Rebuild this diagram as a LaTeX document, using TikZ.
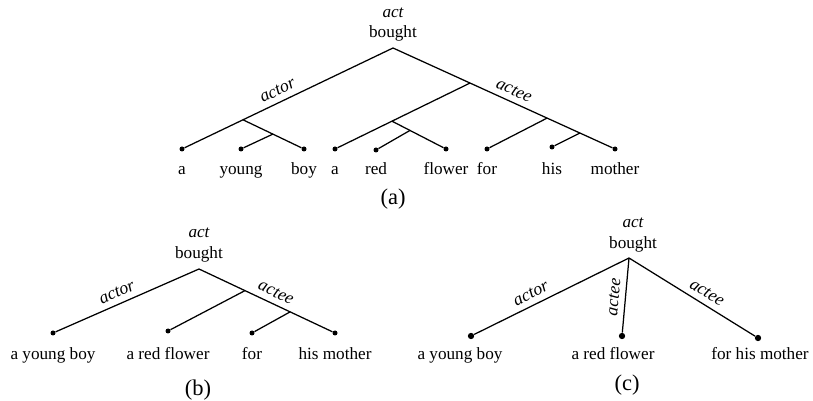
\documentclass[tikz,border=0pt]{standalone}
\usepackage{fontspec}
\setmainfont{Liberation Serif}
\usetikzlibrary{calc}
\tikzstyle{leaf}=[circle,fill=black,inner sep=0pt,minimum size=3pt]
\tikzstyle{bigleaf}=[circle,fill=black,inner sep=0pt,minimum size=3.8pt]
\tikzstyle{word}=[anchor=base,inner sep=0pt,font=\fontsize{10.3}{12}\selectfont]
\tikzstyle{rel}=[sloped,above,inner sep=3.5pt,font=\fontsize{10.6}{12}\selectfont\itshape]
\tikzstyle{branch}=[draw,line width=0.75pt]
\tikzstyle{caption}=[anchor=base,inner sep=0pt,font=\fontsize{13.5}{15}\selectfont]

\begin{document}
\begin{tikzpicture}[x=0.6pt,y=-0.6pt]
\useasboundingbox (0,0) rectangle (813,401);

% (a) -- every word is its own leaf
  \node[word] (actA) at (393,18) {\itshape act};
  \node[word] (headA) at (393,38) {bought};
  \coordinate (rootA) at (393,48);

  \foreach \x/\y/\name/\label in {182/149/a1/a, 241/149/a2/young, 304/149/a3/boy, 335/149/a4/a, 376/150/a5/red, 446/149/a6/flower, 487/149/a7/for, 552/147/a8/his, 615/149/a9/mother}
         {\node[leaf] (\name) at (\x,\y) {};
          \node[word] (w\name) at (\x,175) {\label};}

  \draw[branch] (rootA) -- node[rel,pos=.53] {actor} (a1);
  \draw[branch] (rootA) -- node[rel,pos=.53] {actee} (a9);

  \coordinate (jA1) at ($(rootA)!0.711!(a1)$);
  \coordinate (jA2) at ($(jA1)!0.49!(a3)$);
  \coordinate (jA3) at ($(rootA)!0.347!(a9)$);
  \coordinate (jA4) at ($(jA3)!0.578!(a4)$);
  \coordinate (jA5) at ($(jA4)!0.333!(a6)$);
  \coordinate (jA6) at ($(rootA)!0.694!(a9)$);
  \coordinate (jA7) at ($(rootA)!0.842!(a9)$);

  \foreach \source/\dest in {jA1/a3, jA2/a2, jA3/a4, jA4/a6, jA5/a5, jA6/a7, jA7/a8}
         \draw[branch] (\source) -- (\dest);

  \node[caption] (capA) at (393,205) {(a)};

% (b) -- noun phrases kept whole
  \def\dx{0};
  \def\dy{200};

  \node[word] (actB) at (199+\dx,38+\dy) {\itshape act};
  \node[word] (headB) at (199+\dx,59+\dy) {bought};
  \coordinate (rootB) at (199+\dx,69+\dy);

  \foreach \x/\y/\name/\label in {53/133/b1/a young boy, 168/131/b2/a red flower, 252/133/b3/for, 335/133/b4/his mother}
         {\node[leaf] (\name) at (\x+\dx,\y+\dy) {};
          \node[word] (w\name) at (\x+\dx,160+\dy) {\label};}

  \draw[branch] (rootB) -- node[rel,pos=.54] {actor} (b1);
  \draw[branch] (rootB) -- node[rel,pos=.54] {actee} (b4);

  \coordinate (jB1) at ($(rootB)!0.338!(b4)$);
  \coordinate (jB2) at ($(rootB)!0.67!(b4)$);

  \foreach \source/\dest in {jB1/b2, jB2/b3}
         \draw[branch] (\source) -- (\dest);

  \node[caption] (capB) at (198+\dx,195+\dy) {(b)};

% (c) -- flat, one edge per role
  \def\dx{400};
  \def\dy{200};

  \node[word] (actC) at (233+\dx,28+\dy) {\itshape act};
  \node[word] (headC) at (233+\dx,49+\dy) {bought};
  \coordinate (rootC) at (229+\dx,58+\dy);

  \foreach \x/\y/\xw/\name/\label in {71/136/60/c1/a young boy, 222/136/213/c2/a red flower, 358/138/360/c3/for his mother}
         {\node[bigleaf] (\name) at (\x+\dx,\y+\dy) {};
          \node[word] (w\name) at (\xw+\dx,160+\dy) {\label};}

  \draw[branch] (rootC) -- node[rel,pos=.6] {actor} (c1);
  \draw[branch] (rootC) -- node[rel,pos=.54] {actee} (c2);
  \draw[branch] (rootC) -- node[rel,pos=.57] {actee} (c3);

  \node[caption] (capC) at (227+\dx,190+\dy) {(c)};

\end{tikzpicture}
\end{document}
